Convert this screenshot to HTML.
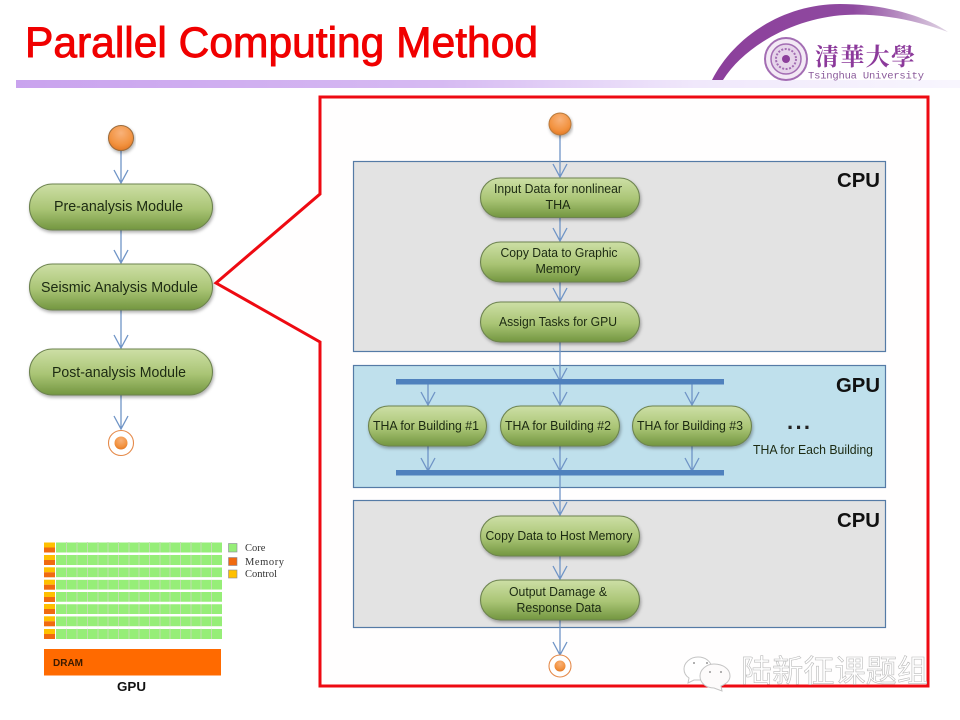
<!DOCTYPE html>
<html><head><meta charset="utf-8"><style>
html,body{margin:0;padding:0;background:#fff;width:960px;height:720px;overflow:hidden}
svg{display:block}
text{font-family:"Liberation Sans",sans-serif}
.n{font-size:14.5px;fill:#1c2a12;text-anchor:middle}
.s{font-size:12.5px;fill:#1c2a12;text-anchor:middle}
.h{font-size:20px;font-weight:bold;fill:#111}
.node{fill:url(#g);stroke:#6d8350;stroke-width:1.1;filter:url(#sh)}
.a{fill:none;stroke:#6f94c6;stroke-width:1.3}
</style></head><body>
<svg width="960" height="720" viewBox="0 0 960 720" xmlns="http://www.w3.org/2000/svg">
<defs>
<linearGradient id="g" x1="0" y1="0" x2="0" y2="1"><stop offset="0" stop-color="#cddfa6"/><stop offset=".55" stop-color="#a9c474"/><stop offset="1" stop-color="#739640"/></linearGradient>
<linearGradient id="b" x1="0" y1="0" x2="1" y2="0"><stop offset="0" stop-color="#c9a3ee"/><stop offset=".45" stop-color="#d6baf2"/><stop offset=".72" stop-color="#f0e8fb"/><stop offset="1" stop-color="#f8f6fe"/></linearGradient>
<radialGradient id="o" cx=".5" cy=".3" r=".75"><stop offset="0" stop-color="#f8b27a"/><stop offset=".65" stop-color="#f2923f"/><stop offset="1" stop-color="#e0731f"/></radialGradient>
<linearGradient id="sw" x1="0" y1="0" x2="1" y2="0"><stop offset="0" stop-color="#8c3f9b"/><stop offset=".6" stop-color="#8f4aa0"/><stop offset="1" stop-color="#e0d5e4"/></linearGradient>
<filter id="sh" x="-10%" y="-20%" width="120%" height="150%"><feDropShadow dx="1" dy="2" stdDeviation="1.6" flood-color="#000" flood-opacity=".32"/></filter>
</defs>

<text x="25" y="57" font-size="42.5" fill="#f00000" stroke="#f00000" stroke-width=".9" textLength="513" lengthAdjust="spacingAndGlyphs">Parallel Computing Method</text>
<rect x="16" y="80" width="944" height="8" fill="url(#b)"/>

<!-- logo -->
<path d="M712 80C735 35 785 4 840 4C885 4 925 16 948 32C915 20 880 13 845 15C795 18 745 45 723 80Z" fill="url(#sw)"/>
<circle cx="786" cy="59" r="21" fill="#f3e9f5" stroke="#a36db3" stroke-width="2"/>
<circle cx="786" cy="59" r="15" fill="#e6d4ea" stroke="#a36db3" stroke-width="1.5"/>
<circle cx="786" cy="59" r="10" fill="none" stroke="#a36db3" stroke-width="2" stroke-dasharray="2 1.5"/>
<circle cx="786" cy="59" r="4" fill="#8c3f9b"/>
<text x="815" y="65" font-size="24" fill="#8c3a9b" textLength="100" style="font-family:'Liberation Serif','Noto Serif CJK SC',serif;font-weight:bold">清華大學</text>
<text x="808" y="78.500" font-size="10.500" fill="#8a5a9a" textLength="116" style="font-family:'Liberation Mono',monospace">Tsinghua University</text>

<!-- red outline -->
<path d="M320 97H928V686H320V342L216 283L320 194Z" fill="#fffefe" stroke="#ee0a12" stroke-width="3"/>

<!-- panels -->
<rect x="353.500" y="161.500" width="532" height="190" fill="#e3e3e3" stroke="#557ba6" stroke-width="1.2"/>
<rect x="353.500" y="365.500" width="532" height="122" fill="#bfe0ec" stroke="#557ba6" stroke-width="1.2"/>
<rect x="353.500" y="500.500" width="532" height="127" fill="#e3e3e3" stroke="#557ba6" stroke-width="1.2"/>
<text class="h" x="837" y="187" textLength="43" lengthAdjust="spacingAndGlyphs">CPU</text>
<text class="h" x="836" y="392" textLength="44" lengthAdjust="spacingAndGlyphs">GPU</text>
<text class="h" x="837" y="527" textLength="43" lengthAdjust="spacingAndGlyphs">CPU</text>

<!-- connectors -->
<path class="a" d="M121 151V183M114 170L121 183L128 170"/>
<path class="a" d="M121 230V263M114 250L121 263L128 250"/>
<path class="a" d="M121 310V348M114 335L121 348L128 335"/>
<path class="a" d="M121 395V429M114 416L121 429L128 416"/>
<path class="a" d="M560 135V177M553 164L560 177L567 164"/>
<path class="a" d="M560 218V241M553 228L560 241L567 228"/>
<path class="a" d="M560 282V301M553 288L560 301L567 288"/>
<path class="a" d="M560 342V405M553 368L560 381L567 368M553 392L560 405L567 392"/>
<path class="a" d="M428 384V405M421 392L428 405L435 392"/>
<path class="a" d="M692 384V405M685 392L692 405L699 392"/>
<path class="a" d="M428 446V471M421 458L428 471L435 458"/>
<path class="a" d="M692 446V471M685 458L692 471L699 458"/>
<path class="a" d="M560 446V515M553 458L560 471L567 458M553 502L560 515L567 502"/>
<path class="a" d="M560 556V579M553 566L560 579L567 566"/>
<path class="a" d="M560 620V655M553 642L560 655L567 642"/>
<rect x="396" y="379" width="328" height="5.500" fill="#4f81bd"/>
<rect x="396" y="470" width="328" height="5.500" fill="#4f81bd"/>

<!-- left nodes -->
<circle cx="121" cy="138" r="12.500" fill="url(#o)" stroke="#9a6a3a" stroke-width="1" filter="url(#sh)"/>
<rect class="node" x="29.500" y="184" width="183" height="46" rx="23"/>
<rect class="node" x="29.500" y="264" width="183" height="46" rx="23"/>
<rect class="node" x="29.500" y="349" width="183" height="46" rx="23"/>
<text class="n" x="118.500" y="211" textLength="129" lengthAdjust="spacingAndGlyphs">Pre-analysis Module</text>
<text class="n" x="119.500" y="292" textLength="157" lengthAdjust="spacingAndGlyphs">Seismic Analysis Module</text>
<text class="n" x="119" y="377" textLength="134" lengthAdjust="spacingAndGlyphs">Post-analysis Module</text>
<circle cx="121" cy="443" r="12.500" fill="#fff" stroke="#e58a4a" stroke-width="1.1"/>
<circle cx="121" cy="443" r="6.500" fill="url(#o)"/>

<!-- right nodes -->
<circle cx="560" cy="124" r="11" fill="url(#o)" stroke="#b97a3d" stroke-width="1" filter="url(#sh)"/>
<rect class="node" x="480.500" y="178" width="159" height="39.500" rx="19.700"/>
<rect class="node" x="480.500" y="242" width="159" height="40" rx="20"/>
<rect class="node" x="480.500" y="302" width="159" height="40" rx="20"/>
<rect class="node" x="368.500" y="406" width="118" height="40" rx="20"/>
<rect class="node" x="500.500" y="406" width="119" height="40" rx="20"/>
<rect class="node" x="632.500" y="406" width="119" height="40" rx="20"/>
<rect class="node" x="480.500" y="516" width="159" height="40" rx="20"/>
<rect class="node" x="480.500" y="580" width="159" height="40" rx="20"/>
<text class="s" x="558" y="193" textLength="128" lengthAdjust="spacingAndGlyphs">Input Data for nonlinear</text>
<text class="s" x="558" y="209" textLength="25" lengthAdjust="spacingAndGlyphs">THA</text>
<text class="s" x="559" y="257" textLength="117" lengthAdjust="spacingAndGlyphs">Copy Data to Graphic</text>
<text class="s" x="558" y="273" textLength="45" lengthAdjust="spacingAndGlyphs">Memory</text>
<text class="s" x="558" y="326" textLength="118" lengthAdjust="spacingAndGlyphs">Assign Tasks for GPU</text>
<text class="s" x="426" y="430" textLength="106" lengthAdjust="spacingAndGlyphs">THA for Building #1</text>
<text class="s" x="558" y="430" textLength="106" lengthAdjust="spacingAndGlyphs">THA for Building #2</text>
<text class="s" x="690" y="430" textLength="106" lengthAdjust="spacingAndGlyphs">THA for Building #3</text>
<text class="s" x="559" y="540" textLength="147" lengthAdjust="spacingAndGlyphs">Copy Data to Host Memory</text>
<text class="s" x="558" y="596" textLength="98" lengthAdjust="spacingAndGlyphs">Output Damage &amp;</text>
<text class="s" x="559" y="612" textLength="85" lengthAdjust="spacingAndGlyphs">Response Data</text>
<text x="787" y="429" font-size="22" font-weight="bold" fill="#222" textLength="23">...</text>
<text class="s" x="813" y="454" textLength="120" lengthAdjust="spacingAndGlyphs">THA for Each Building</text>
<circle cx="560" cy="666" r="11" fill="#fff" stroke="#e58a4a" stroke-width="1.1"/>
<circle cx="560" cy="666" r="5.500" fill="url(#o)"/>

<!-- GPU figure -->
<g>
<g fill="#96ee78">
<rect x="56" y="542.500" width="166" height="10"/>
<rect x="56" y="555" width="166" height="10"/>
<rect x="56" y="567.300" width="166" height="10"/>
<rect x="56" y="579.700" width="166" height="10"/>
<rect x="56" y="592" width="166" height="10"/>
<rect x="56" y="604" width="166" height="10"/>
<rect x="56" y="616.300" width="166" height="10"/>
<rect x="56" y="629" width="166" height="10"/>
</g>
<path d="M66.500 542V639M77 542V639M87.500 542V639M98 542V639M108 542V639M118.500 542V639M129 542V639M139 542V639M149.500 542V639M160 542V639M170 542V639M180.500 542V639M191 542V639M201 542V639M211.500 542V639" stroke="#c2dcb0" stroke-width="1" fill="none"/>
<path d="M44 553.700H222M44 566.200H222M44 578.500H222M44 590.800H222M44 603H222M44 615.200H222M44 627.600H222" stroke="#fff" stroke-width="2.400" fill="none"/>
<g fill="#ffc000"><rect x="44" y="542.500" width="11" height="5"/><rect x="44" y="555" width="11" height="5"/><rect x="44" y="567.300" width="11" height="5"/><rect x="44" y="579.700" width="11" height="5"/><rect x="44" y="592" width="11" height="5"/><rect x="44" y="604" width="11" height="5"/><rect x="44" y="616.300" width="11" height="5"/><rect x="44" y="629" width="11" height="5"/></g>
<g fill="#f06a10"><rect x="44" y="547.500" width="11" height="5"/><rect x="44" y="560" width="11" height="5"/><rect x="44" y="572.300" width="11" height="5"/><rect x="44" y="584.700" width="11" height="5"/><rect x="44" y="597" width="11" height="5"/><rect x="44" y="609" width="11" height="5"/><rect x="44" y="621.300" width="11" height="5"/><rect x="44" y="634" width="11" height="5"/></g>
<rect x="44" y="649" width="177" height="26.500" fill="#ff6a00"/>
<text x="53" y="666" font-size="10" font-weight="bold" fill="#3a1a00" textLength="30" lengthAdjust="spacingAndGlyphs">DRAM</text>
<text x="117" y="691" font-size="13" font-weight="bold" fill="#111" textLength="29" lengthAdjust="spacingAndGlyphs">GPU</text>
<rect x="228.500" y="543.500" width="8.500" height="8.500" fill="#96ee78" stroke="#889" stroke-width=".6"/>
<rect x="228.500" y="557.500" width="8.500" height="8" fill="#f06a10" stroke="#889" stroke-width=".6"/>
<rect x="228.500" y="570" width="8.500" height="8" fill="#ffc000" stroke="#889" stroke-width=".6"/>
<g font-size="10.500" fill="#333">
<text x="245" y="551" style="font-family:'Liberation Serif',serif">Core</text>
<text x="245" y="565" textLength="39" style="font-family:'Liberation Serif',serif">Memory</text>
<text x="245" y="577" style="font-family:'Liberation Serif',serif">Control</text>
</g>
</g>

<!-- watermark -->
<g fill="#fff" stroke="#c4c4c4" stroke-width="1">
<path d="M698 657C690 657 684 663 684 669C684 673 686 676 689 678L688 683L694 680L704 680C710 678 712 672 712 668C711 661 705 657 698 657Z"/>
<path d="M714 664C706 664 700 670 700 676C700 683 706 688 714 688L722 691L721 686C726 684 730 681 730 676C730 669 723 664 714 664Z" fill="#fdfbfb"/>
</g>
<g fill="#999"><circle cx="694" cy="663" r="1"/><circle cx="707" cy="663" r="1"/><circle cx="710" cy="672" r="1"/><circle cx="721" cy="672" r="1"/></g>
<text x="741" y="682" font-size="31" fill="#ffffff" stroke="#bbbbbb" stroke-width=".6" textLength="187" style="font-family:'Liberation Sans','Noto Sans CJK SC',sans-serif">陆新征课题组</text>
</svg>
</body></html>
